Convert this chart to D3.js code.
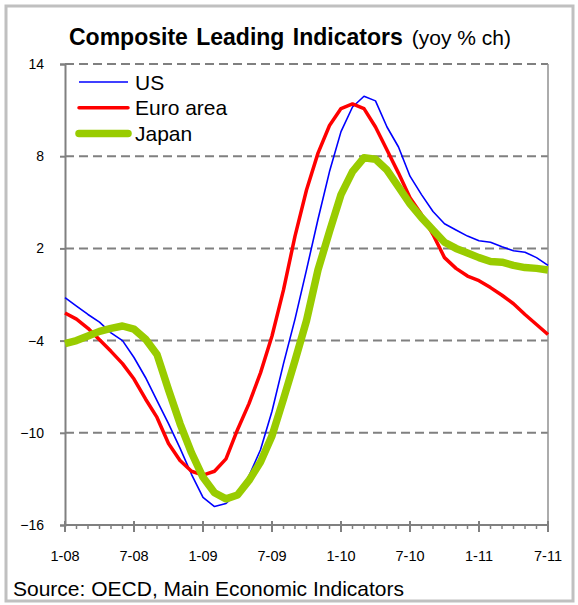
<!DOCTYPE html>
<html><head><meta charset="utf-8">
<script src="https://cdn.jsdelivr.net/npm/d3@7"></script>
<style>body{margin:0;background:#fff}svg{display:block}</style>
</head><body>
<script>
const startYear = 2008, startMonth = 0, nMonths = 43;
const usValues = [-1.2,-1.75,-2.3,-2.8,-3.5,-4.0,-5.1,-6.4,-7.9,-9.4,-11.0,-12.7,-14.2,-14.8,-14.6,-13.9,-12.8,-11.1,-8.6,-5.5,-2.6,0.6,3.9,7.0,9.6,11.2,11.9,11.6,9.9,8.6,6.7,5.5,4.4,3.6,3.2,2.8,2.5,2.4,2.1,1.85,1.75,1.4,0.9];
const euroValues = [-2.2,-2.6,-3.2,-3.95,-4.7,-5.5,-6.5,-7.8,-9.0,-10.7,-11.8,-12.5,-12.75,-12.5,-11.7,-9.8,-8.1,-6.1,-3.7,-0.7,2.8,5.8,8.2,10.0,11.1,11.4,11.1,9.9,8.4,6.9,5.3,4.2,2.9,1.4,0.7,0.2,-0.1,-0.55,-1.05,-1.6,-2.3,-2.95,-3.6];
const japanValues = [-4.2,-4.0,-3.7,-3.4,-3.2,-3.05,-3.25,-3.9,-4.9,-7.2,-9.4,-11.3,-12.9,-13.9,-14.3,-14.05,-13.1,-11.9,-10.2,-7.8,-5.3,-2.7,0.6,3.1,5.5,7.0,7.9,7.8,7.1,6.0,4.9,4.0,3.2,2.4,2.0,1.7,1.4,1.15,1.1,0.9,0.75,0.7,0.6];
const seriesNames = ["US","Euro area","Japan"];
const yTicks = [14,8,2,-4,-10,-16];
const xTickLabels = ["1-08","7-08","1-09","7-09","1-10","7-10","1-11","7-11"];
const titleMain = "Composite Leading Indicators";
const titleSub = "(yoy % ch)";
const sourceText = "Source: OECD, Main Economic Indicators";

const W = 578, H = 605;
const m = {left:65, right:30, top:64, bottom:80};
const svg = d3.select("body").append("svg").attr("width",W).attr("height",H);
const font = "'Liberation Sans', Arial, sans-serif";

// outer frame
svg.append("rect").attr("x",6).attr("y",6).attr("width",567).attr("height",595)
  .attr("fill","none").attr("stroke","#c0c0c0").attr("stroke-width",3);

const x = d3.scaleLinear().domain([0, nMonths-1]).range([m.left, W - m.right]);
const y = d3.scaleLinear().domain([-16,14]).range([H - m.bottom, m.top]);

// gridlines (dashed)
svg.append("g").selectAll("line").data(yTicks.filter(v=>v!==-16)).join("line")
  .attr("x1",x(0)).attr("x2",x(nMonths-1)).attr("y1",d=>y(d)).attr("y2",d=>y(d))
  .attr("stroke","#808080").attr("stroke-width",2).attr("stroke-dasharray","9,5");
// right border
svg.append("line").attr("x1",x(nMonths-1)).attr("x2",x(nMonths-1)).attr("y1",y(14)).attr("y2",y(-16))
  .attr("stroke","#909090").attr("stroke-width",1.5);

// y axis
const yAxis = d3.axisLeft(y).tickValues(yTicks).tickSize(5).tickPadding(16).tickFormat(d3.format("d"));
const gy = svg.append("g").attr("transform",`translate(${m.left},0)`).call(yAxis);
gy.select(".domain").attr("stroke","#808080").attr("stroke-width",2);
gy.selectAll(".tick line").attr("stroke","#808080").attr("stroke-width",2);
gy.selectAll("text").attr("font-family",font).attr("font-size",14).attr("fill","#000");

// x axis: minor ticks monthly
const gx = svg.append("g").attr("transform",`translate(0,${y(-16)})`);
gx.append("line").attr("x1",x(0)).attr("x2",x(nMonths-1)).attr("stroke","#808080").attr("stroke-width",2);
const months = d3.range(nMonths);
gx.selectAll("line.minor").data(months).join("line").attr("class","minor")
  .attr("x1",d=>x(d)).attr("x2",d=>x(d))
  .attr("y1",d=> d%6===0 ? -4 : 0).attr("y2",d=> d%6===0 ? 7 : 4)
  .attr("stroke","#808080").attr("stroke-width",d=> d%6===0 ? 2 : 1.5);
gx.selectAll("text").data(xTickLabels).join("text")
  .attr("x",(d,i)=>x(i*6)).attr("y",36).attr("text-anchor","middle")
  .attr("font-family",font).attr("font-size",14.5).text(d=>d);

// lines
const line = d3.line().x((d,i)=>x(i)).y(d=>y(d));
const styles = [
  {vals:usValues, color:"#0000ff", w:1.6},
  {vals:euroValues, color:"#ff0000", w:3.5},
  {vals:japanValues, color:"#99cc00", w:7.5}
];
styles.forEach(s=>{
  svg.append("path").datum(s.vals).attr("d",line).attr("fill","none")
    .attr("stroke",s.color).attr("stroke-width",s.w).attr("stroke-linejoin","round");
});

// legend
const lg = svg.append("g");
styles.forEach((s,i)=>{
  const yy = 82 + i*25.8;
  lg.append("line").attr("x1",79).attr("x2",128).attr("y1",yy).attr("y2",yy)
    .attr("stroke",s.color).attr("stroke-width",s.w).attr("stroke-linecap", i===0?"butt":"round");
  lg.append("text").attr("x",135).attr("y",yy+7.5).attr("font-family",font).attr("font-size",21)
    .text(seriesNames[i]);
});

// title
const t = svg.append("text").attr("x",69).attr("y",45).attr("font-family",font);
t.append("tspan").attr("font-weight","bold").attr("font-size",23).attr("word-spacing",2).text(titleMain);
t.append("tspan").attr("font-size",21).attr("dx",9).text(titleSub);

// source
svg.append("text").attr("x",13).attr("y",596).attr("font-family",font).attr("font-size",21).text(sourceText);
</script>
</body></html>
